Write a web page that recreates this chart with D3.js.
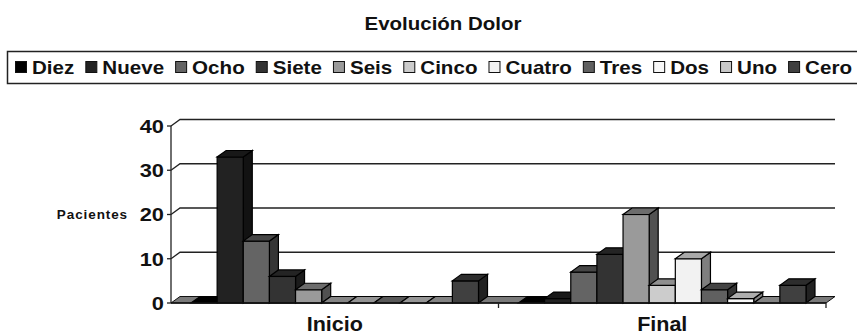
<!DOCTYPE html>
<html>
<head>
<meta charset="utf-8">
<script src="https://cdn.jsdelivr.net/npm/d3@7"></script>
<style>
  html, body { margin: 0; padding: 0; background: #fff; }
  svg { display: block; font-family: "Liberation Sans", Arial, sans-serif; }
</style>
</head>
<body>
<svg id="chart" width="857" height="336"></svg>
<script>
// Pain scores (Diez … Cero) at the start and at the end of treatment
const categories = ["Inicio", "Final"];
const series = ["Diez", "Nueve", "Ocho", "Siete", "Seis", "Cinco", "Cuatro", "Tres", "Dos", "Uno", "Cero"];
const inicio = [0, 33, 14, 6, 3, 0, 0, 0, 0, 0, 5];
const final = [0, 1, 7, 11, 20, 4, 10, 3, 1, 0, 4];
const seriesColors = ["#000000", "#222222", "#646464", "#333333", "#9a9a9a", "#cccccc",
                      "#f2f2f2", "#606060", "#f8f8f8", "#c8c8c8", "#404040"];
const yTicks = [0, 10, 20, 30, 40];
const values = [inicio, final];

const svg = d3.select("#chart");

// plot geometry (front plane) and 3-D depth offset
const plotLeft = 171, plotRight = 826, plotBottom = 303, plotTop = 126;
const dx = 9, dy = -6.5;

const y = d3.scaleLinear().domain([0, 40]).range([plotBottom, plotTop]);
const xCat = d3.scaleBand().domain(categories).range([plotLeft, plotRight]).paddingInner(0).paddingOuter(0);
const xSer = d3.scaleBand().domain(series).range([20, xCat.bandwidth() - 20]).padding(0);
const color = d3.scaleOrdinal().domain(series).range(seriesColors);

// horizontally widened bold text, anchored at (x, y)
function wideText(g, x, yy, txt, size, sx, anchor) {
  return g.append("text")
    .attr("transform", `translate(${x},${yy}) scale(${sx},1)`)
    .attr("text-anchor", anchor || "start")
    .attr("font-size", size)
    .attr("font-weight", "bold")
    .attr("fill", "#111")
    .text(txt);
}

// title
wideText(svg, 443, 30, "Evolución Dolor", 17.5, 1.17, "middle");

// legend
const legend = svg.append("g");
legend.append("rect")
  .attr("x", 7.5).attr("y", 51.5).attr("width", 860).attr("height", 32)
  .attr("fill", "#fff").attr("stroke", "#222").attr("stroke-width", 1.5);
const sw = 11, gapSw = 6, gapItem = 11;
const lgFont = 17.5;
const probe = legend.append("g");
const widths = series.map(s => {
  const t = probe.append("text").attr("font-size", lgFont).attr("font-weight", "bold").text(s);
  const w = t.node().getComputedTextLength();
  t.remove();
  return w;
});
probe.remove();
const lgStart = 15, lgEnd = 852;
const fixed = series.length * (sw + gapSw) + (series.length - 1) * gapItem;
const lgSx = (lgEnd - lgStart - fixed) / d3.sum(widths);
let cx = lgStart;
series.forEach((s, i) => {
  legend.append("rect")
    .attr("x", cx + 0.5).attr("y", 61.5).attr("width", sw).attr("height", sw)
    .attr("fill", color(s)).attr("stroke", "#111").attr("stroke-width", 1);
  cx += sw + gapSw;
  wideText(legend, cx, 73.5, s, lgFont, lgSx, "start");
  cx += widths[i] * lgSx + gapItem;
});

// back wall gridlines with their depth diagonal
const grid = svg.append("g");
yTicks.filter(v => v > 0).forEach(v => {
  grid.append("path")
    .attr("d", `M${plotLeft},${y(v)}L${plotLeft + dx},${y(v) + dy}L${plotRight + dx},${y(v) + dy}`)
    .attr("fill", "none").attr("stroke", "#222").attr("stroke-width", 1.3);
});

// floor
svg.append("path")
  .attr("d", `M${plotLeft},${plotBottom}L${plotRight},${plotBottom}L${plotRight + dx},${plotBottom + dy}L${plotLeft + dx},${plotBottom + dy}Z`)
  .attr("fill", "#7a7a7a").attr("stroke", "#111").attr("stroke-width", 1);

// bars drawn left to right so each one hides the side of its neighbour
const bars = svg.append("g");
categories.forEach((c, ci) => {
  series.forEach((s, si) => {
    const v = values[ci][si];
    const x0 = xCat(c) + xSer(s), w = xSer.bandwidth();
    const yt = y(v), yb = y(0);
    const base = d3.color(color(s));
    const g = bars.append("g");
    if (v > 0) {
      g.append("path")
        .attr("d", `M${x0 + w},${yb}L${x0 + w + dx},${yb + dy}L${x0 + w + dx},${yt + dy}L${x0 + w},${yt}Z`)
        .attr("fill", base.darker(1.8)).attr("stroke", "#000").attr("stroke-width", 1.2);
      g.append("rect")
        .attr("x", x0).attr("y", yt).attr("width", w).attr("height", yb - yt)
        .attr("fill", base).attr("stroke", "#000").attr("stroke-width", 1.2);
    }
    // an empty bar shows only its flat lid, shaded like the floor
    g.append("path")
      .attr("d", `M${x0},${yt}L${x0 + w},${yt}L${x0 + w + dx},${yt + dy}L${x0 + dx},${yt + dy}Z`)
      .attr("fill", v > 0 || si === 0 ? base.darker(1) : d3.interpolateRgb(base, "#555")(0.6))
      .attr("stroke", "#000").attr("stroke-width", 1.2);
  });
});

// value axis
const axis = svg.append("g");
axis.append("line")
  .attr("x1", plotLeft).attr("x2", plotLeft).attr("y1", y(0)).attr("y2", y(40))
  .attr("stroke", "#222").attr("stroke-width", 1.3);
yTicks.forEach(v => {
  axis.append("line")
    .attr("x1", plotLeft - 4).attr("x2", plotLeft).attr("y1", y(v)).attr("y2", y(v))
    .attr("stroke", "#222").attr("stroke-width", 1.3);
  wideText(axis, 164, y(v) + 6.8, String(v), 18.5, 1.18, "end");
});
axis.append("text")
  .attr("x", 128).attr("y", 219)
  .attr("text-anchor", "end")
  .attr("font-size", 13.5).attr("font-weight", "bold")
  .attr("letter-spacing", 0.9)
  .attr("fill", "#111")
  .text("Pacientes");

// category axis
axis.append("line")
  .attr("x1", plotLeft).attr("x2", plotRight).attr("y1", plotBottom).attr("y2", plotBottom)
  .attr("stroke", "#111").attr("stroke-width", 1.3);
[xCat("Final"), plotRight].forEach(xv => {
  axis.append("line")
    .attr("x1", xv).attr("x2", xv).attr("y1", plotBottom).attr("y2", plotBottom + 5)
    .attr("stroke", "#222").attr("stroke-width", 1.3);
});
categories.forEach(c => {
  wideText(axis, xCat(c) + xCat.bandwidth() / 2, 331, c, 20.5, 1.05, "middle");
});
</script>
</body>
</html>
